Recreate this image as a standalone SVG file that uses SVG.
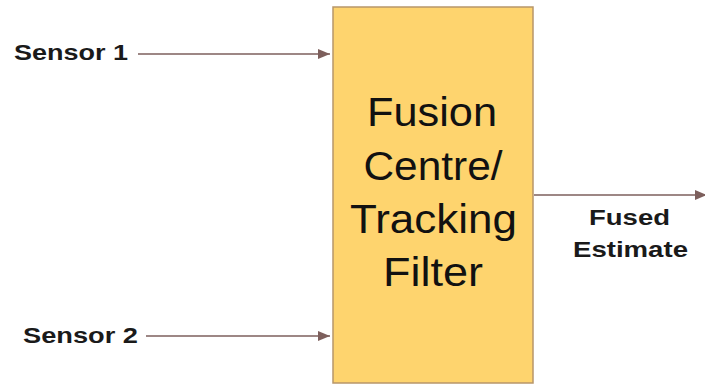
<svg xmlns="http://www.w3.org/2000/svg" width="705" height="385" viewBox="0 0 705 385">
<defs>
<style>
.lbl{font-family:"Liberation Sans",Arial,sans-serif;font-weight:bold;font-size:22px;fill:#1a1a1a}
.main{font-family:"Liberation Sans",Arial,sans-serif;font-size:40px;fill:#111;text-anchor:middle}
.conn{stroke:#7d5f5c;stroke-width:1.6;fill:none;marker-end:url(#ah)}
</style>
<marker id="ah" markerWidth="12" markerHeight="10" refX="12" refY="5" orient="auto" markerUnits="userSpaceOnUse">
<path d="M0,0 L12,5 L0,10 Z" fill="#7d5f5c"/>
</marker>
</defs>
<rect width="705" height="385" fill="#fff"/>
<g id="connectors">
<line class="conn" x1="138" y1="54" x2="330" y2="54"/>
<line class="conn" x1="146" y1="336" x2="330" y2="336"/>
<line class="conn" x1="534" y1="195" x2="707" y2="195"/>
</g>
<g id="fusion-centre">
<rect x="333" y="7" width="200" height="376" fill="#fed46e" stroke="#b8966a" stroke-width="1.5"/>
<text class="main" x="432" y="126" textLength="130" lengthAdjust="spacingAndGlyphs">Fusion</text>
<text class="main" x="433" y="180" textLength="139" lengthAdjust="spacingAndGlyphs">Centre/</text>
<text class="main" x="433.5" y="233" textLength="167" lengthAdjust="spacingAndGlyphs">Tracking</text>
<text class="main" x="433" y="286" textLength="100" lengthAdjust="spacingAndGlyphs">Filter</text>
</g>
<g id="sensor-1">
<text class="lbl" x="14" y="60" textLength="114" lengthAdjust="spacingAndGlyphs">Sensor 1</text>
</g>
<g id="sensor-2">
<text class="lbl" x="23" y="343" textLength="115" lengthAdjust="spacingAndGlyphs">Sensor 2</text>
</g>
<g id="fused-estimate">
<text class="lbl" x="589" y="225" textLength="81" lengthAdjust="spacingAndGlyphs">Fused</text>
<text class="lbl" x="573" y="257" textLength="115" lengthAdjust="spacingAndGlyphs">Estimate</text>
</g>
</svg>
